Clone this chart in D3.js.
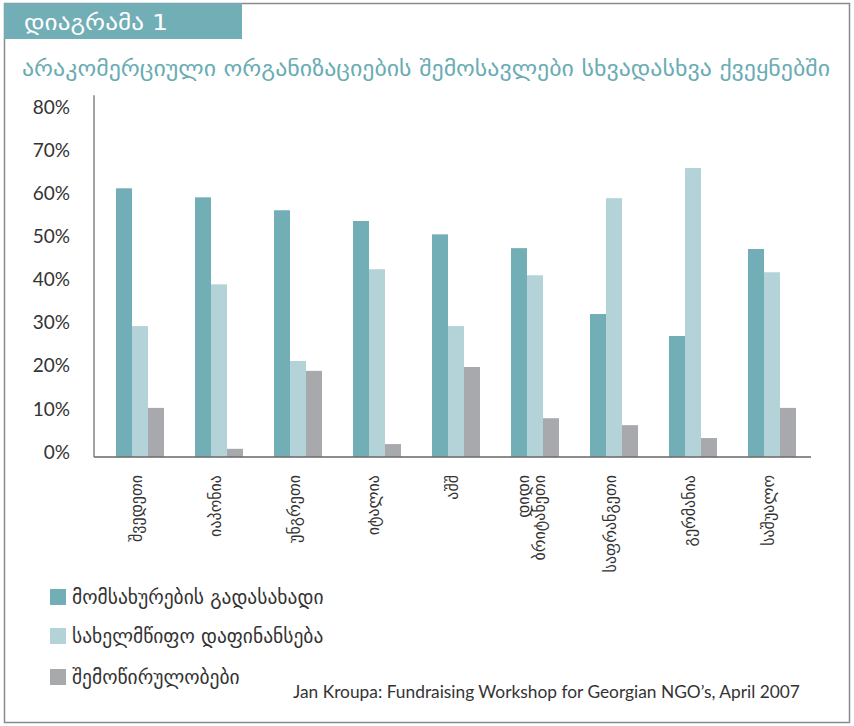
<!DOCTYPE html>
<html><head><meta charset="utf-8">
<script src="https://cdn.jsdelivr.net/npm/d3@7"></script>
<style>body{margin:0;background:#fff}svg{display:block}</style>
</head><body>
<svg id="c" width="854" height="726"></svg>
<script>
const headerText = "დიაგრამა 1";
const titleText = "არაკომერციული ორგანიზაციების შემოსავლები სხვადასხვა ქვეყნებში";
const categories = [["შვედეთი"],["იაპონია"],["უნგრეთი"],["იტალია"],["აშშ"],["დიდი","ბრიტანეთი"],["საფრანგეთი"],["გერმანია"],["საშუალო"]];
const seriesNames = ["მომსახურების გადასახადი","სახელმწიფო დაფინანსება","შემოწირულობები"];
const fees = [62.4, 60.3, 57.3, 54.8, 51.7, 48.5, 33.2, 28.1, 48.3];
const government = [30.4, 40.1, 22.3, 43.6, 30.4, 42.2, 60.1, 67.1, 42.9];
const philanthropy = [11.4, 1.9, 20.0, 3.0, 20.9, 9.0, 7.4, 4.4, 11.4];
const yTicks = [0,10,20,30,40,50,60,70,80];
const sourceText = "Jan Kroupa: Fundraising Workshop for Georgian NGO’s, April 2007";
const colors = ["#72aeb5","#b3d3d8","#a8a9ad"];

const svg = d3.select("#c");
const geo = "'DejaVu Sans', sans-serif";
const lat = "'Lato', 'Open Sans', sans-serif";

// frame
svg.append("rect").attr("x",4.5).attr("y",3.5).attr("width",845).attr("height",719)
  .attr("fill","none").attr("stroke","#8a8a8a").attr("stroke-width",1.5);
svg.append("rect").attr("x",4).attr("y",3).attr("width",238).attr("height",36).attr("fill","#72aeb5");
const ht = svg.append("text").attr("x",24).attr("y",30).attr("fill","#fff")
  .attr("font-family",geo).attr("font-size",22).text(headerText);
ht.attr("textLength",144).attr("lengthAdjust","spacingAndGlyphs");

const tt = svg.append("text").attr("x",22).attr("y",76).attr("fill","#6aacb4")
  .attr("font-family",geo).attr("font-size",22).text(titleText);
tt.attr("textLength",808).attr("lengthAdjust","spacingAndGlyphs");

// scales
const y = d3.scaleLinear().domain([0,80]).range([457,112.5]);
const x = d3.scaleBand().domain(d3.range(categories.length)).range([100.5,811.5])
  .paddingInner(31/79).paddingOuter(31/158);
const xs = d3.scaleBand().domain([0,1,2]).range([0,x.bandwidth()]);

const series = [fees, government, philanthropy];
const g = svg.append("g");
series.forEach((vals,si)=>{
  g.selectAll(null).data(vals).join("rect")
    .attr("x",(d,i)=>x(i)+xs(si)).attr("width",xs.bandwidth())
    .attr("y",d=>y(d)).attr("height",d=>y(0)-y(d)).attr("fill",colors[si]);
});

// y axis
const ya = svg.append("g").attr("transform","translate(94,0)")
  .call(d3.axisLeft(y).tickValues(yTicks).tickFormat(d=>d+"%").tickSize(0).tickPadding(24));
ya.select(".domain").remove();
ya.selectAll("text").attr("font-family",lat).attr("font-size",19).attr("fill","#333")
  .attr("transform","translate(0,-5)");
svg.append("line").attr("x1",94).attr("x2",94).attr("y1",y(0)).attr("y2",y(84))
  .attr("stroke","#666").attr("stroke-width",1.2);
svg.append("line").attr("x1",94).attr("x2",811).attr("y1",y(0)).attr("y2",y(0))
  .attr("stroke","#6f6f6f").attr("stroke-opacity",0.8).attr("stroke-width",2);

// x labels
categories.forEach((lines,i)=>{
  const cx = x(i)+x.bandwidth()/2 - 4;
  const n = lines.length;
  lines.forEach((ln,j)=>{
    const off = (j-(n-1)/2)*16;
    svg.append("text").attr("transform",`translate(${cx+off},475) rotate(-90)`)
      .attr("text-anchor","end").attr("dy","0.35em")
      .attr("font-family",geo).attr("font-size",16).attr("fill","#333").text(ln);
  });
});

// legend
const legY = [597,636,677];
seriesNames.forEach((nm,i)=>{
  svg.append("rect").attr("x",50).attr("y",legY[i]-8).attr("width",16).attr("height",16).attr("fill",colors[i]);
  svg.append("text").attr("x",72).attr("y",legY[i]).attr("dy","0.35em")
    .attr("font-family",geo).attr("font-size",19.5).attr("fill","#333").text(nm);
});

// source
const st = svg.append("text").attr("x",293).attr("y",698).attr("font-family",lat)
  .attr("font-size",16).attr("fill","#333").text(sourceText);
const w = st.node().getComputedTextLength();
st.attr("font-size",16*507/w);
</script>
</body></html>
